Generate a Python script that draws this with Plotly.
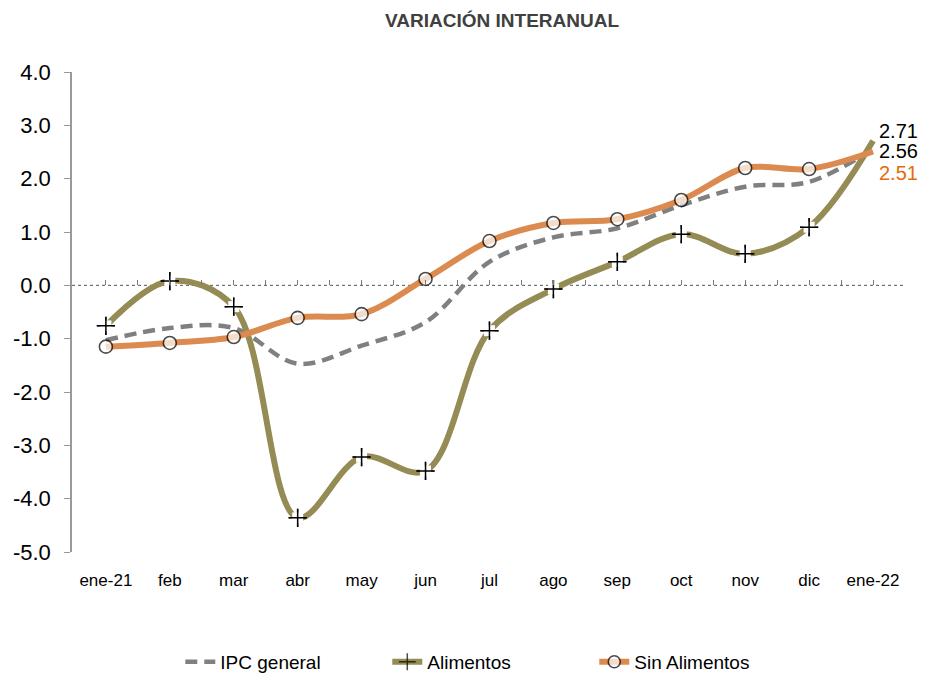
import plotly.graph_objects as go

months = ["ene-21", "feb", "mar", "abr", "may", "jun", "jul", "ago", "sep", "oct", "nov", "dic", "ene-22"]
ipc_general = [-1.03, -0.80, -0.80, -1.47, -1.13, -0.69, 0.44, 0.90, 1.07, 1.50, 1.85, 1.94, 2.56]
alimentos = [-0.76, 0.08, -0.40, -4.36, -3.22, -3.48, -0.85, -0.07, 0.44, 0.96, 0.59, 1.09, 2.71]
sin_alimentos = [-1.15, -1.08, -0.97, -0.61, -0.54, 0.12, 0.83, 1.17, 1.24, 1.60, 2.20, 2.18, 2.51]
y_tickvals = [4, 3, 2, 1, 0, -1, -2, -3, -4, -5]
y_ticktext = ["4.0", "3.0", "2.0", "1.0", "0.0", "-1.0", "-2.0", "-3.0", "-4.0", "-5.0"]

FONT = "Liberation Sans Narrow, Arial Narrow, Liberation Sans, Arial, sans-serif"
GRAY = "#808080"
OLIVE = "#958B55"
ORANGE = "#DB8B50"

x = list(range(len(months)))
n = len(months)

fig = go.Figure()

fig.add_trace(go.Scatter(
    x=x, y=ipc_general, name="IPC general", mode="lines",
    line=dict(color=GRAY, width=4.5, dash="12px,7px", shape="spline", smoothing=1.0),
))

fig.add_trace(go.Scatter(
    x=x, y=alimentos, name="Alimentos", mode="lines+markers",
    line=dict(color=OLIVE, width=6, shape="spline", smoothing=1.0),
    marker=dict(symbol="cross-thin", size=[13] * (n - 1) + [0], color="black",
                line=dict(color="black", width=1.5)),
))
# white backing behind the "+" markers (Excel style gap)
fig.add_trace(go.Scatter(
    x=x[:-1], y=alimentos[:-1], mode="markers", showlegend=False, hoverinfo="skip",
    marker=dict(symbol="square", size=11, color="white", line=dict(width=0)),
))
fig.add_trace(go.Scatter(
    x=x[:-1], y=alimentos[:-1], mode="markers", showlegend=False, hoverinfo="skip",
    marker=dict(symbol="cross-thin", size=13, color="black", line=dict(color="black", width=1.5)),
))

fig.add_trace(go.Scatter(
    x=x, y=sin_alimentos, name="Sin Alimentos", mode="lines+markers",
    line=dict(color=ORANGE, width=6, shape="spline", smoothing=1.0),
    marker=dict(symbol="circle", size=[13] * (n - 1) + [0], color="white",
                line=dict(color="black", width=1.6)),
))

# end-of-series value labels
labels = [
    (alimentos[-1], "black", 10),
    (ipc_general[-1], "black", -2),
    (sin_alimentos[-1], "#E46C0A", -22),
]
for val, col, ys in labels:
    fig.add_annotation(x=x[-1], y=val, text=f"{val:.2f}", showarrow=False,
                       xanchor="left", yanchor="middle", xshift=4, yshift=ys,
                       font=dict(family=FONT, size=20, color=col))

# dotted zero line
fig.add_shape(type="line", xref="x", yref="y", x0=-0.53, x1=12.5, y0=0, y1=0,
              line=dict(color="#555555", width=1, dash="dot"), layer="below")

fig.update_layout(
    width=920, height=667,
    paper_bgcolor="white", plot_bgcolor="white",
    margin=dict(l=64, r=23, t=64, b=123, autoexpand=False),
    title=dict(text="<b>VARIACIÓN INTERANUAL</b>", x=0.537, xanchor="center", y=0.982, yanchor="middle",
               font=dict(family=FONT, size=19, color="#404040")),
    xaxis=dict(
        range=[-0.53, 12.5], tickmode="array", tickvals=x, ticktext=months,
        showgrid=False, zeroline=False, showline=False, automargin=False,
        ticks="outside", ticklen=13, tickcolor="rgba(0,0,0,0)",
        tickfont=dict(family=FONT, size=17, color="black"),
    ),
    xaxis2=dict(
        overlaying="x", anchor="free", position=5 / 9, range=[-0.53, 12.5],
        tickmode="array", tickvals=[i * 0.5 for i in range(26)],
        ticks="inside", ticklen=5, tickcolor="#777777", tickwidth=1,
        showticklabels=False, showgrid=False, zeroline=False, showline=False,
    ),
    yaxis=dict(
        range=[-5, 4], tickmode="array", tickvals=y_tickvals, ticktext=y_ticktext,
        showgrid=False, zeroline=False, showline=True, linecolor="#999999", linewidth=1.5,
        ticks="outside", ticklen=6, tickcolor="#999999", automargin=False,
        ticklabelstandoff=9,
        tickfont=dict(family=FONT, size=22, color="black"),
    ),
    legend=dict(orientation="h", x=0.13, xanchor="left", y=-0.229, yanchor="middle",
                font=dict(family=FONT, size=19, color="black"),
                entrywidth=162, entrywidthmode="pixels", tracegroupgap=0),
    showlegend=True,
)

# dummy trace to activate xaxis2
fig.add_trace(go.Scatter(x=[None], y=[None], xaxis="x2", showlegend=False, hoverinfo="skip"))

fig.write_html("out.html")
